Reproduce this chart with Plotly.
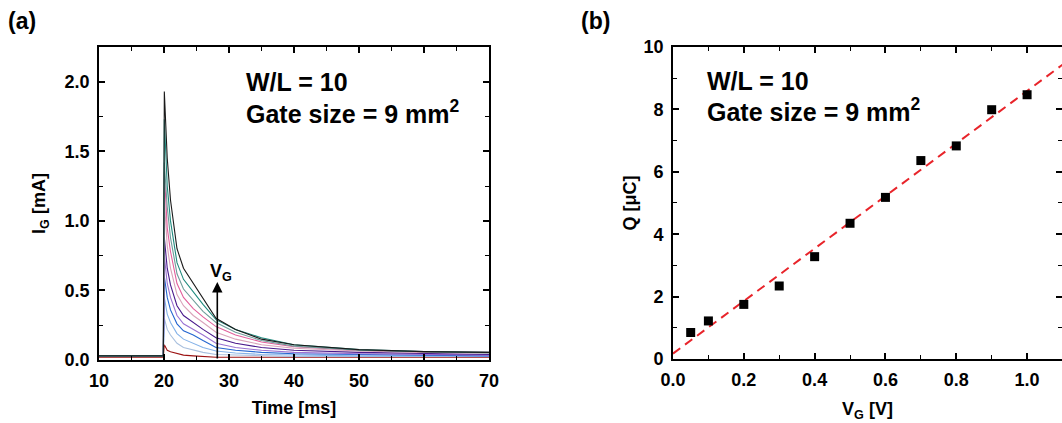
import numpy as np
import plotly.graph_objects as go

# ---------------- data: panel (a) gate current transients ----------------
time_ms = [10, 19.9, 20.05, 20.5, 21, 22, 23, 24.5, 26, 28, 31, 35, 40, 50, 60, 70]

vg_labels = [1.0, 0.9, 0.8, 0.7, 0.6, 0.5, 0.4, 0.3, 0.2, 0.1, 0.05]
ig_10 = [0.03, 0.03, 1.93, 1.45, 1.15, 0.80, 0.66, 0.55, 0.45, 0.30, 0.22, 0.15, 0.11, 0.075, 0.06, 0.055]
ig_09 = [0.03, 0.03, 1.73, 1.25, 1.00, 0.70, 0.58, 0.49, 0.40, 0.29, 0.22, 0.16, 0.11, 0.075, 0.06, 0.055]
ig_08 = [0.03, 0.03, 1.42, 1.10, 0.88, 0.62, 0.51, 0.43, 0.35, 0.27, 0.20, 0.14, 0.10, 0.07, 0.06, 0.05]
ig_07 = [0.03, 0.03, 1.35, 0.95, 0.78, 0.55, 0.45, 0.37, 0.31, 0.24, 0.18, 0.13, 0.095, 0.07, 0.06, 0.055]
ig_06 = [0.03, 0.03, 1.15, 0.82, 0.66, 0.47, 0.39, 0.32, 0.27, 0.20, 0.15, 0.11, 0.085, 0.065, 0.055, 0.05]
ig_05 = [0.03, 0.03, 0.88, 0.66, 0.54, 0.39, 0.32, 0.27, 0.22, 0.16, 0.12, 0.09, 0.07, 0.055, 0.045, 0.04]
ig_04 = [0.03, 0.03, 0.75, 0.55, 0.45, 0.32, 0.26, 0.22, 0.18, 0.12, 0.09, 0.07, 0.055, 0.045, 0.04, 0.035]
ig_03 = [0.03, 0.03, 0.60, 0.45, 0.36, 0.26, 0.21, 0.18, 0.14, 0.09, 0.07, 0.055, 0.045, 0.04, 0.035, 0.03]
ig_02 = [0.03, 0.03, 0.45, 0.33, 0.27, 0.19, 0.15, 0.12, 0.09, 0.065, 0.05, 0.04, 0.035, 0.03, 0.03, 0.03]
ig_01 = [0.03, 0.03, 0.30, 0.22, 0.18, 0.12, 0.09, 0.07, 0.055, 0.04, 0.035, 0.03, 0.025, 0.025, 0.025, 0.025]
ig_005 = [0.02, 0.02, 0.11, 0.07, 0.06, 0.045, 0.035, 0.03, 0.025, 0.02, 0.02, 0.02, 0.02, 0.02, 0.02, 0.02]
ig_curves = [ig_10, ig_09, ig_08, ig_07, ig_06, ig_05, ig_04, ig_03, ig_02, ig_01, ig_005]
curve_colors = ["#1a1a1a", "#1f8a7e", "#6f9c9a", "#e2609c", "#d9a3ba", "#4a1a8c",
                "#9a72d2", "#2566d0", "#84b2e8", "#a9c0de", "#9c1212"]

# ---------------- data: panel (b) charge vs gate voltage ----------------
vg_volts = [0.05, 0.1, 0.2, 0.3, 0.4, 0.5, 0.6, 0.7, 0.8, 0.9, 1.0]
q_uc = [0.85, 1.22, 1.75, 2.34, 3.28, 4.35, 5.18, 6.36, 6.83, 7.99, 8.47]

slope, intercept = np.polyfit(vg_volts, q_uc, 1)
fit_x = [0.0, 1.1]
fit_y = [intercept + slope * v for v in fit_x]

FONT = "Liberation Sans, Arial, sans-serif"

fig = go.Figure()

for lab, ys, col in reversed(list(zip(vg_labels, ig_curves, curve_colors))):
    fig.add_trace(go.Scatter(x=time_ms, y=ys, mode="lines", line=dict(color=col, width=1.1),
                             xaxis="x", yaxis="y", showlegend=False, name=f"{lab} V"))

fig.add_trace(go.Scatter(x=fit_x, y=fit_y, mode="lines",
                         line=dict(color="#e8242a", width=2, dash="9px,6px"),
                         xaxis="x2", yaxis="y2", showlegend=False))
fig.add_trace(go.Scatter(x=vg_volts, y=q_uc, mode="markers",
                         marker=dict(symbol="square", size=9, color="black"),
                         xaxis="x2", yaxis="y2", showlegend=False))

axis_common = dict(showline=True, linecolor="black", linewidth=1.6, mirror="allticks",
                   ticks="inside", ticklen=6, tickwidth=1.6, tickcolor="black",
                   showgrid=False, zeroline=False, ticklabelstandoff=4, automargin=False,
                   tickfont=dict(family=FONT, size=18, color="black", weight="bold"),
                   title_font=dict(family=FONT, size=18, color="black", weight="bold"))

fig.update_layout(
    width=1062, height=423, margin=dict(l=0, r=0, t=0, b=0, autoexpand=False),
    paper_bgcolor="white", plot_bgcolor="white",
    xaxis=dict(axis_common, domain=[0.0932, 0.4605], range=[10, 70], dtick=10,
               minor=dict(ticks="inside", ticklen=4, dtick=5, tickcolor="black", tickwidth=1.4),
               title=dict(text="Time [ms]", standoff=11)),
    yaxis=dict(axis_common, domain=[0.1489, 0.8889], range=[0, 2.25], dtick=0.5, tickformat=".1f",
               minor=dict(ticks="inside", ticklen=4, dtick=0.25, tickcolor="black", tickwidth=1.4),
               title=dict(text="I<sub>G</sub> [mA]", standoff=14)),
    xaxis2=dict(axis_common, domain=[0.6337, 1.0], range=[0, 1.0986], dtick=0.2, tickformat=".1f",
                anchor="y2",
                minor=dict(ticks="inside", ticklen=4, dtick=0.1, tickcolor="black", tickwidth=1.4),
                title=dict(text="V<sub>G</sub> [V]", standoff=13)),
    yaxis2=dict(axis_common, domain=[0.1513, 0.8889], range=[0, 10], dtick=2, anchor="x2",
                minor=dict(ticks="inside", ticklen=4, dtick=1, tickcolor="black", tickwidth=1.4),
                title=dict(text="Q [μC]", standoff=2)),
)

txt_font = dict(family=FONT, size=25, color="black", weight="bold")
annotations = [
    dict(x=0.0, y=1.0, xref="paper", yref="paper", text="(a)", showarrow=False,
         xanchor="left", yanchor="top", xshift=6, yshift=-6,
         font=dict(family=FONT, size=23, color="black", weight="bold")),
    dict(x=0.5423, y=1.0, xref="paper", yref="paper", text="(b)", showarrow=False,
         xanchor="left", yanchor="top", xshift=3, yshift=-6,
         font=dict(family=FONT, size=23, color="black", weight="bold")),
    dict(x=32.3, y=2.0, xref="x", yref="y", text="W/L = 10", showarrow=False,
         xanchor="left", yanchor="middle", font=txt_font),
    dict(x=32.3, y=1.78, xref="x", yref="y", text="Gate size = 9 mm<sup>2</sup>", showarrow=False,
         xanchor="left", yanchor="middle", font=txt_font),
    dict(x=0.09, y=8.9, xref="x2", yref="y2", text="W/L = 10", showarrow=False,
         xanchor="left", yanchor="middle", font=txt_font),
    dict(x=0.09, y=7.97, xref="x2", yref="y2", text="Gate size = 9 mm<sup>2</sup>", showarrow=False,
         xanchor="left", yanchor="middle", font=txt_font),
    dict(x=28.2, y=0.56, ax=28.2, ay=0.0, xref="x", yref="y", axref="x", ayref="y",
         text="", showarrow=True, arrowhead=2, arrowsize=1.3, arrowwidth=1.6, arrowcolor="black"),
    dict(x=28.7, y=0.63, xref="x", yref="y", text="V<sub>G</sub>", showarrow=False,
         xanchor="center", yanchor="middle",
         font=dict(family=FONT, size=18, color="black", weight="bold")),
]
fig.update_layout(annotations=annotations)

fig.write_html("out.html")
